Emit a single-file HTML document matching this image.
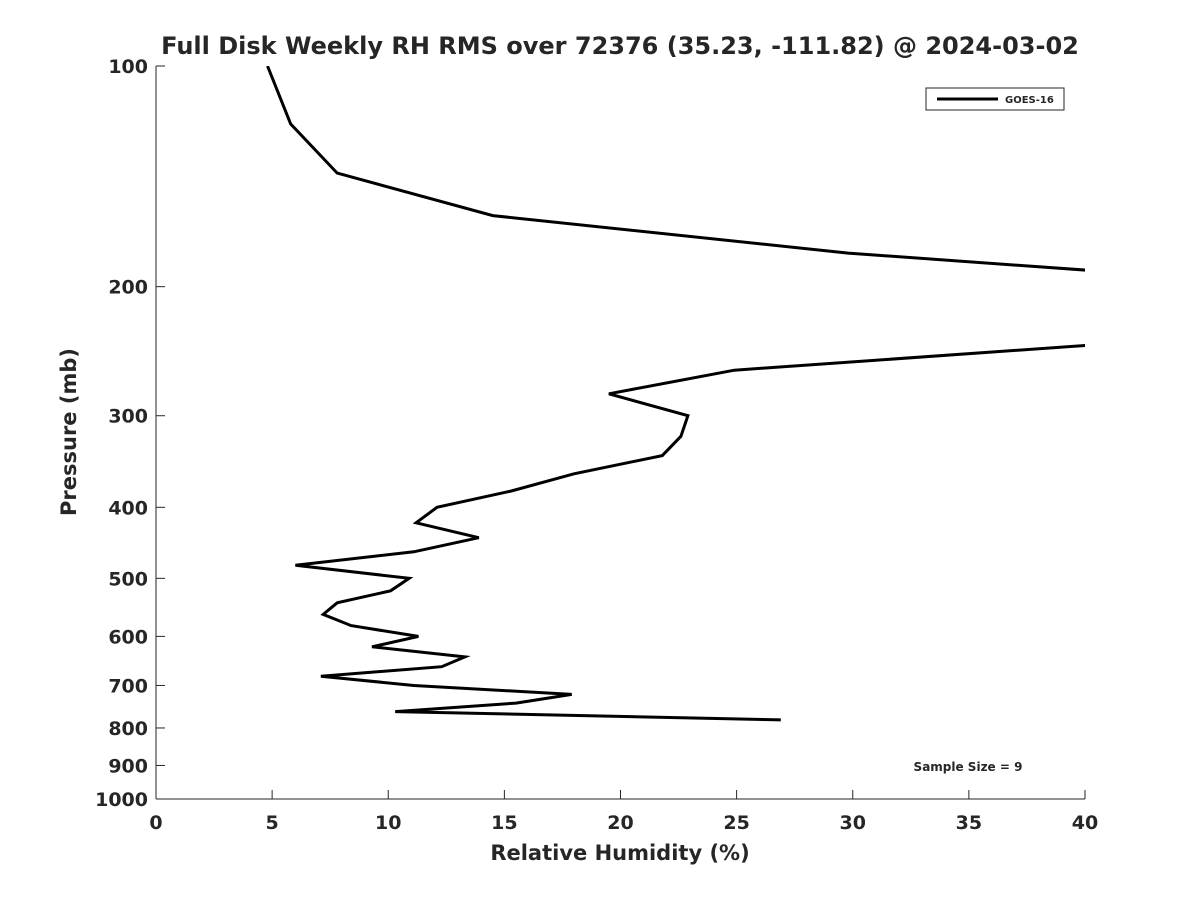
<!DOCTYPE html>
<html><head><meta charset="utf-8"><style>
body{margin:0;background:#fff;}
svg text{font-family:"DejaVu Sans","Liberation Sans",sans-serif;font-weight:bold;fill:#262626;}
</style></head><body>
<svg id="chart" width="1200" height="900" xmlns="http://www.w3.org/2000/svg">
<defs><clipPath id="plotclip"><rect x="156" y="66" width="929" height="733"/></clipPath></defs>
<rect width="1200" height="900" fill="#fff"/>
<text x="620" y="54" text-anchor="middle" font-size="24">Full Disk Weekly RH RMS over 72376 (35.23, -111.82) @ 2024-03-02</text>
<g id="axes"></g>
<g id="series" clip-path="url(#plotclip)"></g>
<rect x="926" y="88" width="138" height="22" fill="#fff" stroke="#262626" stroke-width="1"/>
<line x1="937" y1="99" x2="998" y2="99" stroke="#000" stroke-width="3"/>
<text x="1005" y="103" font-size="10">GOES-16</text>
<text x="968" y="771" text-anchor="middle" font-size="12">Sample Size = 9</text>
<text x="620" y="860" text-anchor="middle" font-size="21">Relative Humidity (%)</text>
<text transform="translate(76,432) rotate(-90)" text-anchor="middle" font-size="21">Pressure (mb)</text>
</svg>
<script>
const xTicks=[0,5,10,15,20,25,30,35,40];
const yTicks=[100,200,300,400,500,600,700,800,900,1000];
const pressures=[100,120,140,160,180,200,220,240,260,280,300,320,340,360,380,400,420,440,460,480,500,520,540,560,580,600,620,640,660,680,700,720,740,760,780];
const rhValues=[4.8,5.8,7.8,14.5,29.8,50,null,40.5,24.9,19.5,22.9,22.6,21.8,18.0,15.3,12.1,11.2,13.9,11.1,6.0,10.9,10.1,7.8,7.2,8.4,11.3,9.3,13.3,12.3,7.1,11.1,17.9,15.5,10.3,26.9];
const X0=156,X1=1085,Y0=66,Y1=799;
function xs(v){return X0+(v-0)/(40-0)*(X1-X0);}
function ys(p){return Y0+(Math.log10(p)-2)/(3-2)*(Y1-Y0);}
const NS="http://www.w3.org/2000/svg";
const axes=document.getElementById('axes');
function mk(tag,attrs,parent){const e=document.createElementNS(NS,tag);for(const k in attrs)e.setAttribute(k,attrs[k]);parent.appendChild(e);return e;}
let a=mk('line',{x1:X0,y1:Y0,x2:X0,y2:Y1,stroke:'#262626','stroke-width':1},axes);


a=mk('line',{x1:X0,y1:Y1,x2:X1,y2:Y1,stroke:'#262626','stroke-width':1},axes);


xTicks.forEach(t=>{
 const x=xs(t);
 const l=mk('line',{x1:x,y1:Y1,x2:x,y2:Y1-9,stroke:'#262626'},axes);
 
 
 const tx=mk('text',{x:x,y:Y1+30,'text-anchor':'middle','font-size':19},axes);
 tx.textContent=t;
 
 
});
yTicks.forEach(t=>{
 const y=ys(t);
 const l=mk('line',{x1:X0,y1:y,x2:X0+9,y2:y,stroke:'#262626'},axes);
 
 
 const tx=mk('text',{x:X0-8,y:y+7,'text-anchor':'end','font-size':19},axes);
 tx.textContent=t;
 
 
});
let d='',pen=false;
for(let i=0;i<pressures.length;i++){
 const v=rhValues[i];
 if(v===null){pen=false;continue;}
 d+=(pen?'L':'M')+xs(v).toFixed(1)+','+ys(pressures[i]).toFixed(1);
 pen=true;
}
const path=mk('path',{d:d,fill:'none',stroke:'#000','stroke-width':3,'stroke-linejoin':'miter'},document.getElementById('series'));


</script>
</body></html>
